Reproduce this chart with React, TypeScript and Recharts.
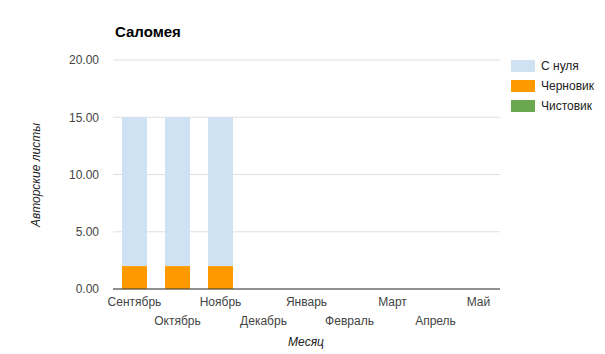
import React from 'react';
import { BarChart, Bar, XAxis, YAxis, CartesianGrid } from 'recharts';

const months = ['Сентябрь', 'Октябрь', 'Ноябрь', 'Декабрь', 'Январь', 'Февраль', 'Март', 'Апрель', 'Май'];
const draft = [2, 2, 2, 0, 0, 0, 0, 0, 0];
const fromScratch = [13, 13, 13, 0, 0, 0, 0, 0, 0];
const clean = [0, 0, 0, 0, 0, 0, 0, 0, 0];
const yTicks = [0, 5, 10, 15, 20];

const series = [
  { key: 'С нуля', color: '#cfe2f3' },
  { key: 'Черновик', color: '#ff9900' },
  { key: 'Чистовик', color: '#6aa84f' },
];

const data = months.map((m, i) => ({
  month: m,
  'Черновик': draft[i],
  'С нуля': fromScratch[i],
  'Чистовик': clean[i],
}));

const font = 'Arial, "Liberation Sans", sans-serif';

const MonthTick = (props: any) => {
  const { x, y, payload, index } = props;
  const dy = index % 2 === 0 ? 9 : 28;
  return (
    <text x={x} y={y + dy} textAnchor="middle" fontSize={12} fill="#444" fontFamily={font}>
      {payload.value}
    </text>
  );
};

export default function App() {
  return (
    <div style={{ position: 'absolute', left: 0, top: 0, width: 605, height: 354, background: '#fff' }}>
      <div style={{ position: 'absolute', left: 115, top: 23, fontFamily: font, fontWeight: 'bold', fontSize: 15, color: '#000' }}>
        Саломея
      </div>
      <div
        style={{
          position: 'absolute', left: 36, top: 175, fontFamily: font, fontStyle: 'italic', fontSize: 12, color: '#222',
          transform: 'translate(-50%, -50%) rotate(-90deg)', whiteSpace: 'nowrap',
        }}
      >
        Авторские листы
      </div>
      <div
        style={{
          position: 'absolute', left: 306, top: 342, fontFamily: font, fontStyle: 'italic', fontSize: 12, color: '#222',
          transform: 'translate(-50%, -50%)',
        }}
      >
        Месяц
      </div>
      {/* легенда */}
      <div style={{ position: 'absolute', left: 511, top: 56, fontFamily: font, fontSize: 12, color: '#222' }}>
        {series.map((s) => (
          <div key={s.key} style={{ display: 'flex', alignItems: 'center', height: 20 }}>
            <div style={{ width: 24, height: 12, background: s.color, marginRight: 6 }} />
            <span>{s.key}</span>
          </div>
        ))}
      </div>
      <BarChart width={605} height={354} data={data} margin={{ top: 60, right: 105, bottom: 0, left: 0 }}>
        <CartesianGrid vertical={false} stroke="#e0e0e0" />
        <XAxis
          dataKey="month"
          interval={0}
          tick={<MonthTick />}
          tickLine={false}
          axisLine={{ stroke: '#333' }}
          height={65}
        />
        <YAxis
          width={113}
          domain={[0, 20]}
          ticks={yTicks}
          tickFormatter={(v: number) => v.toFixed(2)}
          axisLine={false}
          tickLine={false}
          tickMargin={8}
          tick={{ fontSize: 12, fill: '#444', fontFamily: font }}
        />
        <Bar dataKey="Черновик" stackId="a" fill="#ff9900" barSize={25} isAnimationActive={false} />
        <Bar dataKey="С нуля" stackId="a" fill="#cfe2f3" barSize={25} isAnimationActive={false} />
        <Bar dataKey="Чистовик" stackId="a" fill="#6aa84f" barSize={25} isAnimationActive={false} />
      </BarChart>
    </div>
  );
}
